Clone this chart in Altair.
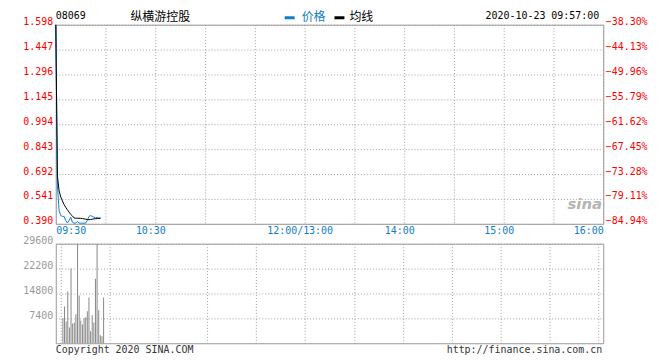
import altair as alt
import pandas as pd

# ---------------- data ----------------
price_min = list(range(28))  # minutes after 09:30
price = [1.598, 0.62, 0.47, 0.44, 0.435, 0.435, 0.41, 0.395, 0.41, 0.43,
         0.40, 0.394, 0.394, 0.405, 0.394, 0.394, 0.394, 0.394, 0.394, 0.41,
         0.434, 0.44, 0.435, 0.43, 0.426, 0.43, 0.425, 0.425]
avg = [1.598, 0.68, 0.59, 0.553, 0.529, 0.507, 0.49, 0.475, 0.461, 0.447,
       0.438, 0.426, 0.424, 0.424, 0.424, 0.423, 0.422, 0.42, 0.418, 0.416,
       0.415, 0.416, 0.418, 0.42, 0.421, 0.422, 0.423, 0.424]
vol_min = list(range(1, 27))
volume = [7400, 10950, 6500, 15400, 4700, 22200, 5900, 6200, 8600, 29600,
          14200, 6800, 5600, 7400, 7700, 9500, 13600, 3550, 8300, 6200,
          19200, 29600, 9800, 2400, 2100, 13600]

prev_close = 2.59
price_ticks = [0.390, 0.541, 0.692, 0.843, 0.994, 1.145, 1.296, 1.447, 1.598]
vol_ticks = [7400, 14800, 22200, 29600]
x_ticks = list(range(0, 331, 30))
x_labels = {0: "09:30", 60: "10:30", 150: "12:00/13:00", 210: "14:00", 270: "15:00", 330: "16:00"}

code = "08069"
name = "纵横游控股"
stamp = "2020-10-23 09:57:00"
legend_names = ["价格", "均线"]
footer_left = "Copyright 2020 SINA.COM"
footer_right = "http://finance.sina.com.cn"

# ---------------- style ----------------
MONO = "DejaVu Sans Mono"
CJK = "Noto Sans CJK SC"
BLUE = "#0f7dc8"
RED = "#ff0000"
GRID = "#a0a0a0"
W = 550

pdf = pd.DataFrame({"m": price_min, "price": price, "avg": avg})
vdf = pd.DataFrame({"m": vol_min, "vol": volume})

label_expr = " : ".join(f"datum.value == {k} ? '{v}'" for k, v in x_labels.items()) + " : ''"

xscale = alt.Scale(domain=[0, 330], nice=False, zero=False)
yscale = alt.Scale(domain=[price_ticks[0], price_ticks[-1]], nice=False, zero=False)

x_axis_top = alt.Axis(values=x_ticks, labelExpr=label_expr, grid=True, gridDash=[1, 2],
                      gridColor=GRID, ticks=False, domain=False, labelFlush=True,
                      labelOverlap=False, labelColor=BLUE, labelFont=MONO, labelFontSize=10,
                      labelPadding=2, title=None,
                      labelOffset={"condition": {"test": "datum.value == 0 || datum.value == 330", "value": 0}, "value": -5})

left_axis = alt.Axis(values=price_ticks, format=".3f", grid=True, gridDash=[1, 2], gridColor=GRID,
                     ticks=False, domain=False, labelColor=RED, labelFont=MONO, labelFontSize=10,
                     labelPadding=3, labelOffset=-3, title=None)
right_axis = alt.Axis(values=price_ticks, orient="right", grid=False, ticks=False, domain=False,
                      labelExpr=f"format((datum.value / {prev_close} - 1) * 100, '.2f') + '%'",
                      labelColor=RED, labelFont=MONO, labelFontSize=10, labelPadding=2,
                      labelOffset=-3, title=None)

price_line = alt.Chart(pdf).mark_line(color=BLUE, strokeWidth=1).encode(
    x=alt.X("m:Q", scale=xscale, axis=x_axis_top),
    y=alt.Y("price:Q", scale=yscale, axis=left_axis),
)
avg_line = alt.Chart(pdf).mark_line(color="#000000", strokeWidth=1).encode(
    x=alt.X("m:Q", scale=xscale),
    y=alt.Y("avg:Q", scale=yscale, axis=right_axis),
)

def txt(text, x, y, align="left", font=MONO, size=10, color="#000000", **kw):
    return alt.Chart(pd.DataFrame({"t": [text]})).mark_text(
        align=align, baseline="middle", font=font, fontSize=size, color=color, **kw
    ).encode(x=alt.value(x), y=alt.value(y), text="t:N")

def dash(x1, x2, y, color):
    return alt.Chart(pd.DataFrame({"a": [0]})).mark_rule(color=color, strokeWidth=3).encode(
        x=alt.value(x1), x2=alt.value(x2), y=alt.value(y))

top_texts = [
    txt(code, 0, -9),
    txt(name, 75, -7.5, font=CJK, size=12),
    dash(230, 240, -7, BLUE),
    txt(legend_names[0], 247, -7.5, font=CJK, size=12, color=BLUE),
    dash(280, 290, -7, "#000000"),
    txt(legend_names[1], 295, -7.5, font=CJK, size=12),
    txt(stamp, 546, -9, align="right"),
    txt("sina", 514, 180, font="DejaVu Sans", size=15, color="#b5b5b5",
        fontStyle="italic", fontWeight="bold"),
]

price_panel = alt.layer(price_line, avg_line, *top_texts).resolve_scale(y="independent").properties(
    width=W, height=200)

vol_axis = alt.Axis(values=vol_ticks, format="d", grid=True, gridDash=[1, 2], gridColor=GRID,
                    ticks=False, domain=False, labelColor="#999999", labelFont=MONO,
                    labelFontSize=10, labelPadding=3, labelOffset=-3, title=None)
x_axis_bot = alt.Axis(values=x_ticks, labels=False, grid=True, gridDash=[1, 2], gridColor=GRID,
                      ticks=False, domain=False, title=None)

bars = alt.Chart(vdf).mark_bar(size=1, color="#888888", xOffset=0.5).encode(
    x=alt.X("m:Q", scale=xscale, axis=x_axis_bot),
    y=alt.Y("vol:Q", scale=alt.Scale(domain=[0, vol_ticks[-1]], nice=False), axis=vol_axis),
)

vol_panel = alt.layer(
    bars,
    txt(footer_left, 0, 107, color="#333333"),
    txt(footer_right, 549, 107, align="right", color="#333333"),
).properties(width=W, height=100)

chart = alt.vconcat(price_panel, vol_panel, spacing=20, bounds="flush").properties(
    padding={"left": 14, "top": 1, "right": 4, "bottom": 0},
).configure_view(stroke="#999999", strokeWidth=1)

chart.save("out.html", embed_options={"renderer": "svg", "actions": False})
